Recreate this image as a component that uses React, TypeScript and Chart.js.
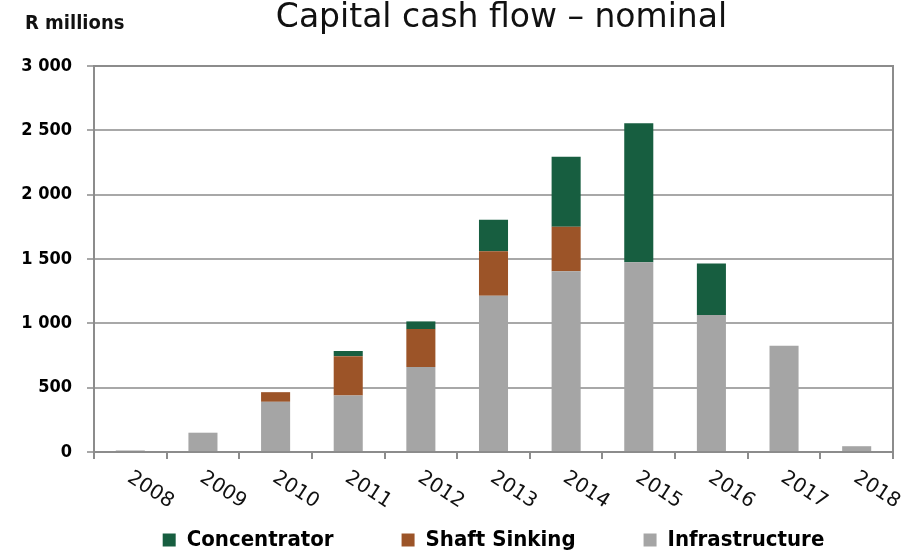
import { useEffect, useRef } from "react";
import { Chart, registerables } from "chart.js";

Chart.register(...registerables);

const years = ["2008", "2009", "2010", "2011", "2012", "2013", "2014", "2015", "2016", "2017", "2018"];
const infrastructure = [12, 150, 390, 440, 660, 1215, 1405, 1475, 1065, 825, 45];
const shaftSinking = [0, 0, 75, 305, 295, 345, 345, 0, 0, 0, 0];
const concentrator = [0, 0, 0, 40, 60, 245, 545, 1080, 400, 0, 0];
const yTicks = [0, 500, 1000, 1500, 2000, 2500, 3000];

const titleText = "Capital cash flow \u2013 nominal";
const unitText = "R millions";

const COND = '"DejaVu Sans Condensed", "DejaVu Sans", sans-serif';
const SANS = '"DejaVu Sans", sans-serif';

const fmt = (v: number) => String(v).replace(/\B(?=(\d{3})+(?!\d))/g, " ");

const decor = {
  id: "decor",
  afterDraw(chart: any) {
    const { ctx, chartArea } = chart;
    const xs = chart.scales.x;
    ctx.save();
    ctx.strokeStyle = "#8c8c8c";
    ctx.lineWidth = 2;
    ctx.strokeRect(chartArea.left, chartArea.top, chartArea.right - chartArea.left, chartArea.bottom - chartArea.top);
    ctx.fillStyle = "#111";
    ctx.font = "33px " + SANS;
    ctx.textAlign = "center";
    ctx.textBaseline = "middle";
    ctx.fillText(titleText, (chartArea.left + chartArea.right) / 2 + 8, 18);
    ctx.font = "bold 20px " + COND;
    ctx.textAlign = "left";
    ctx.fillText(unitText, 25, 24);
    ctx.font = "500 20px " + SANS;
    ctx.textAlign = "center";
    ctx.textBaseline = "middle";
    years.forEach((lab, i) => {
      const x = xs.getPixelForValue(i);
      ctx.save();
      ctx.translate(x + 20, 490);
      ctx.rotate((33 * Math.PI) / 180);
      ctx.fillText(lab, 0, 0);
      ctx.restore();
    });
    ctx.restore();
  },
};

export default function App() {
  const ref = useRef<HTMLCanvasElement>(null);
  useEffect(() => {
    document.body.style.margin = "0";
    document.body.style.overflow = "hidden";
    const chart = new Chart(ref.current!, {
      type: "bar",
      data: {
        labels: years,
        datasets: [
          { label: "Infrastructure", data: infrastructure, backgroundColor: "#a5a5a5", borderWidth: 0 },
          { label: "Shaft Sinking", data: shaftSinking, backgroundColor: "#9c5428", borderWidth: 0 },
          { label: "Concentrator", data: concentrator, backgroundColor: "#175e40", borderWidth: 0 },
        ],
      },
      options: {
        responsive: false,
        animation: false,
        layout: { padding: { top: 66, left: 0, right: 11, bottom: -10 } },
        datasets: { bar: { categoryPercentage: 1, barPercentage: 0.4 } },
        scales: {
          x: {
            stacked: true,
            offset: true,
            ticks: { display: false },
            grid: { display: true, drawOnChartArea: false, drawTicks: true, tickLength: 7, color: "#8c8c8c", lineWidth: 2, offset: true },
            border: { display: true, color: "#8c8c8c", width: 2 },
            afterFit: (s: any) => { s.height = 9; },
          },
          y: {
            stacked: true,
            min: 0,
            max: 3000,
            afterBuildTicks: (s: any) => { s.ticks = yTicks.map((v) => ({ value: v })); },
            afterFit: (s: any) => { s.width = 94; },
            ticks: {
              callback: (v: any) => fmt(Number(v)),
              font: { family: COND, size: 18, weight: "bold" },
              color: "#000",
              padding: 15,
            },
            grid: { color: "#a8a8a8", lineWidth: 2, tickLength: 7 },
            border: { display: true, color: "#8c8c8c", width: 2 },
          },
        },
        plugins: {
          title: { display: false },
          tooltip: { enabled: false },
          legend: {
            position: "bottom",
            fullSize: false,
            reverse: true,
            labels: {
              boxWidth: 13,
              boxHeight: 13,
              padding: 68,
              color: "#000",
              font: { family: COND, size: 22, weight: "bold" },
            },
          },
        },
      },
      plugins: [decor],
    });
    return () => chart.destroy();
  }, []);
  return (
    <div style={{ width: 904, height: 551 }}>
      <canvas ref={ref} width={904} height={551} />
    </div>
  );
}
